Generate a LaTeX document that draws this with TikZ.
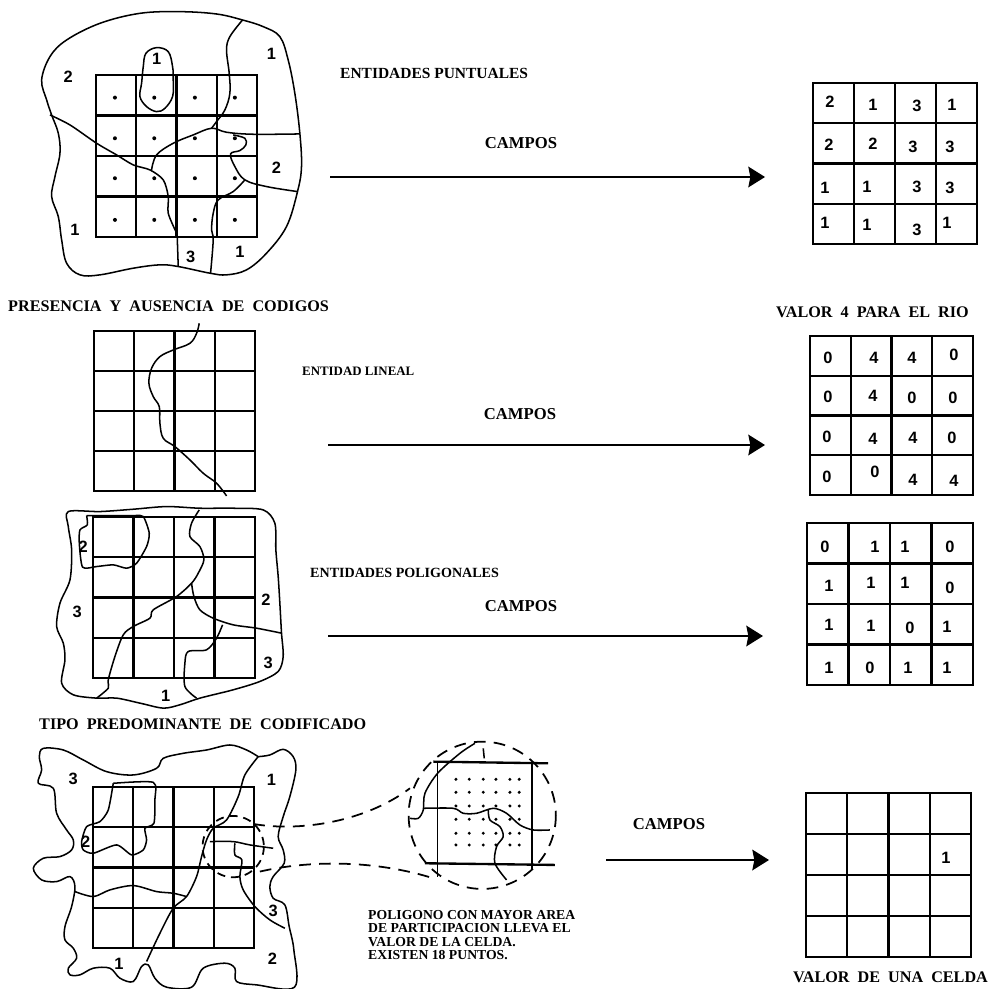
\documentclass[tikz,border=0pt]{standalone}
\usepackage{fontspec}
\setmainfont{Liberation Serif}
\newfontfamily\digitfont{Liberation Sans}
\usetikzlibrary{arrows.meta}
\tikzset{
    rotulo/.style={anchor=west, inner sep=0pt, font=\bfseries\fontsize{13.2}{13.2}\selectfont},
    rotuloancho/.style={anchor=west, inner sep=0pt, font=\bfseries\fontsize{13.8}{13.8}\selectfont},
    rotulochico/.style={anchor=west, inner sep=0pt, align=left, font=\bfseries\fontsize{11.7}{11.2}\selectfont},
    campos/.style={inner sep=0pt, font=\bfseries\fontsize{14.2}{14.2}\selectfont},
    cifra/.style={inner sep=0pt, font=\digitfont\bfseries\fontsize{14}{14}\selectfont},
    rejilla/.style={line width=2pt},
    linde/.style={line width=1.3pt, line join=round},
    flecha/.style={line width=1.5pt, -{Stealth[length=0.5cm, width=0.62cm, inset=0.06cm]}},
    trazos/.style={line width=1.5pt, dash pattern=on 10pt off 7pt},
    trazoscortos/.style={line width=1.5pt, dash pattern=on 7pt off 5pt},
    zoompic/.style={x=0.01cm, y=-0.01cm}
}
\begin{document}
\begin{tikzpicture}[x=0.03cm, y=-0.03cm, >=Stealth]
    \useasboundingbox (0,0) rectangle (989,988);
    \fill[white] (0,0) rectangle (989,988);
    % cuadriculas
    \foreach \gx/\gy/\gw/\gh in {96/75/161/162, 94/331/161/160, 93/517/162/161, 93/787/161/161,
        813/83/164/161, 810/336/163/159, 807/523/166/162, 806/793/165/164} {
        \draw[rejilla] (\gx,\gy) rectangle ({\gx+\gw},{\gy+\gh});
        \foreach \i in {1,2,3} {
            \draw[rejilla] ({\gx+\i*\gw/4},\gy) -- ({\gx+\i*\gw/4},{\gy+\gh});
            \draw[rejilla] (\gx,{\gy+\i*\gh/4}) -- ({\gx+\gw},{\gy+\i*\gh/4});
        }
    }
    % primer mapa
    \begin{scope}[zoompic]
        \draw[linde] plot[smooth cycle, tension=0.6] coordinates {(728,60) (650,42) (540,35) (420,40) (300,70) (200,120) (150,170) (125,240) (140,300) (155,345) (175,400) (180,460) (165,530) (155,590) (175,650) (185,720) (200,790) (240,825) (300,825) (400,805) (480,795) (535,800) (630,820) (680,825) (740,810) (800,760) (860,680) (893,575) (905,500) (900,400) (885,280) (865,180) (840,110) (790,80)};
        \draw[linde] plot[smooth cycle, tension=0.6] coordinates {(430,200) (438,160) (470,143) (505,155) (518,200) (520,240) (518,290) (495,325) (470,335) (440,320) (420,290) (425,250)};
        \draw[linde] plot[smooth, tension=0.6] coordinates {(728,60) (690,110) (680,150) (688,220) (690,280) (675,330) (650,365) (635,385)};
        \draw[linde] plot[smooth, tension=0.5] coordinates {(150,345) (210,375) (290,430) (350,465) (400,495) (450,510) (490,540) (505,590) (505,640) (528,695)};
        \draw[linde] (528,695) -- (532,712) -- (535,800);
        \draw[linde] plot[smooth, tension=0.6] coordinates {(455,510) (470,465) (520,430) (580,405) (635,385) (680,397) (760,403) (900,402)};
        \draw[linde] plot[smooth, tension=0.6] coordinates {(700,405) (735,415) (738,435) (720,452) (692,462) (705,500) (735,540) (800,560) (893,575)};
        \draw[linde] plot[smooth, tension=0.6] coordinates {(735,540) (700,575) (655,600) (640,640) (635,690) (640,720) (632,820)};
        \foreach \px in {345,463,585,705} \foreach \py in {293,415,535,660}
            \fill (\px,\py) circle[radius=6];
        \node[cifra] (dosA) at (205,230) {2};
        \node[cifra] (unoA) at (470,178) {1};
        \node[cifra] (unoB) at (815,162) {1};
        \node[cifra] (dosB) at (830,505) {2};
        \node[cifra] (unoC) at (225,690) {1};
        \node[cifra] (tresA) at (572,770) {3};
        \node[cifra] (unoD) at (720,755) {1};
    \end{scope}
    % rio
    \begin{scope}[shift={(0,310)}, zoompic]
        \draw[linde] plot[smooth, tension=0.6] coordinates {(598,40) (590,70) (570,100) (520,120) (480,140) (455,175) (447,220) (460,260) (478,290) (480,340) (490,385) (525,410) (570,450) (610,490) (650,520) (680,558)};
    \end{scope}
    % poligonos
    \begin{scope}[shift={(0,310)}, zoompic]
        \draw[linde] plot[smooth cycle, tension=0.5] coordinates {(205,605) (300,605) (400,598) (500,590) (600,595) (700,595) (790,600) (825,640) (828,720) (835,800) (840,880) (845,970) (850,1040) (835,1085) (780,1115) (700,1140) (600,1165) (540,1185) (490,1195) (420,1180) (350,1165) (290,1165) (220,1155) (185,1120) (195,1050) (190,1000) (170,950) (180,880) (210,810) (215,720) (205,650)};
        \draw[linde] plot[smooth, tension=0.4] coordinates {(260,617) (400,617) (430,620) (448,670) (440,710) (410,760) (380,775) (340,765) (290,770) (248,772) (238,700) (240,660) (262,645) (260,617)};
        \draw[linde] plot[smooth, tension=0.5] coordinates {(598,600) (575,640) (570,680) (600,710) (612,750) (595,790) (575,820) (530,860) (460,900) (450,925) (400,950) (370,975) (345,1040) (325,1110) (325,1135) (290,1165)};
        \draw[linde] plot[smooth, tension=0.5] coordinates {(575,820) (582,860) (600,900) (640,925) (700,945) (770,955) (845,970)};
        \draw[linde] plot[smooth, tension=0.5] coordinates {(668,945) (650,985) (620,1020) (565,1025) (555,1060) (555,1130) (590,1165)};
        \node[cifra] (dosC) at (250,710) {2};
        \node[cifra] (tresB) at (232,905) {3};
        \node[cifra] (dosD) at (798,870) {2};
        \node[cifra] (tresC) at (805,1060) {3};
        \node[cifra] (unoE) at (497,1158) {1};
    \end{scope}
    % celda ampliada, mapa
    \begin{scope}[shift={(0,700)}, zoompic]
        \draw[linde] plot[smooth, tension=0.55] coordinates {(775,170) (740,150) (690,135) (620,150) (550,160) (490,175) (470,205) (400,225) (320,215) (250,180) (190,150) (130,145) (118,170) (125,210) (115,250) (160,265) (170,340) (200,390) (220,420) (215,450) (180,470) (130,475) (100,505) (125,540) (170,545) (210,530) (225,560) (215,620) (195,680) (195,720) (220,745) (230,775) (205,805) (210,825) (240,825) (280,805) (330,805) (360,835) (400,845) (425,800) (445,795) (465,835) (500,862) (575,862) (610,805) (675,790) (705,805) (710,845) (770,855) (884,862) (882,750) (868,680) (855,615) (820,595) (810,560) (820,530) (853,490) (850,450) (835,410) (850,350) (870,290) (888,210) (880,170) (850,148) (810,165) (775,170)};
        \draw[linde] plot[smooth, tension=0.4] coordinates {(340,250) (460,247) (465,300) (462,370) (435,385) (440,420) (430,450) (395,465) (350,435) (280,460) (250,450) (245,425) (260,380) (300,365) (325,330) (340,250)};
        \draw[linde] plot[smooth, tension=0.5] coordinates {(775,170) (735,225) (715,290) (680,360) (640,385) (620,420) (605,470) (590,530) (560,590) (520,625) (480,700) (440,785)};
        \draw[linde] plot[smooth, tension=0.5] coordinates {(225,575) (280,590) (330,570) (400,557) (470,575) (520,580) (560,590)};
        \draw[linde] plot[smooth, tension=0.5] coordinates {(630,425) (700,425) (750,435) (820,445)};
        \draw[linde] plot[smooth, tension=0.5] coordinates {(705,430) (705,465) (726,480) (720,530) (730,570) (765,620) (810,660) (855,685)};
        \draw[trazoscortos] (700,440) circle[radius=92];
        \coordinate (circA) at (760,372);
        \coordinate (circB) at (780,515);
        \node[cifra] (tresD) at (220,237) {3};
        \node[cifra] (unoF) at (815,240) {1};
        \node[cifra] (dosE) at (257,425) {2};
        \node[cifra] (tresE) at (820,632) {3};
        \node[cifra] (dosF) at (818,778) {2};
        \node[cifra] (unoG) at (357,793) {1};
    \end{scope}
    % celda ampliada
    \begin{scope}[shift={(300,730)}, zoompic]
        \draw[trazos] (547,256) circle[radius=221];
        \draw[rejilla] (400,95) -- (745,100);
        \draw[rejilla] (375,400) -- (765,405);
        \draw[linde] (413,95) -- (413,440);
        \draw[linde] (697,95) -- (697,420);
        \draw[linde] plot[smooth, tension=0.5] coordinates {(525,40) (480,70) (413,130) (375,190) (370,240) (355,265) (330,265)};
        \draw[linde] plot[smooth, tension=0.5] coordinates {(370,235) (460,235) (490,250) (530,250) (580,235) (620,250) (660,285) (700,300) (750,300)};
        \draw[linde] plot[smooth, tension=0.5] coordinates {(565,240) (570,270) (600,290) (610,320) (590,350) (585,400) (620,450)};
        \draw[linde] (550,55) -- (553,85);
        \foreach \px in {468,508,550,588,630,658} \foreach \py in {148,187,228,268,310,345}
            \fill (\px,\py) circle[radius=5];
        \coordinate (circC) at (330,175);
        \coordinate (circD) at (400,445);
    \end{scope}
    \draw[trazos] (circA) .. controls (300,832) and (365,822) .. (circC);
    \draw[trazos] (circB) .. controls (310,860) and (375,860) .. (circD);
    % flechas
    \coordinate (ptoA) at (330,177);
    \coordinate (ptoB) at (765,177);
    \coordinate (linA) at (328,445);
    \coordinate (linB) at (765,445);
    \coordinate (polA) at (328,636);
    \coordinate (polB) at (763,636);
    \coordinate (celA) at (606,860);
    \coordinate (celB) at (769,860);
    \draw[flecha] (ptoA) -- (ptoB);
    \draw[flecha] (linA) -- (linB);
    \draw[flecha] (polA) -- (polB);
    \draw[flecha] (celA) -- (celB);
    % textos
    \node[rotulo] (txtPuntuales) at (340,73) {ENTIDADES PUNTUALES};
    \node[campos] (camposA) at (521,143) {CAMPOS};
    \node[rotuloancho] (txtPresencia) at (8,306) {PRESENCIA\ \ Y\ \ AUSENCIA\ \ DE\ \ CODIGOS};
    \node[rotuloancho] (txtValorRio) at (776,312) {VALOR\ \ 4\ \ PARA\ \ EL\ \ RIO};
    \node[rotulo, font=\bfseries\fontsize{11}{11}\selectfont] (txtLineal) at (302,371) {ENTIDAD LINEAL};
    \node[campos] (camposB) at (520,414) {CAMPOS};
    \node[rotulo, font=\bfseries\fontsize{12}{12}\selectfont] (txtPoligonales) at (310,573) {ENTIDADES POLIGONALES};
    \node[campos] (camposC) at (521,606) {CAMPOS};
    \node[rotuloancho] (txtTipo) at (39,724) {TIPO\ \ PREDOMINANTE\ \ DE\ \ CODIFICADO};
    \node[campos] (camposD) at (669,824) {CAMPOS};
    \node[rotulochico] (txtPoligono) at (368,935) {POLIGONO CON MAYOR AREA\\DE PARTICIPACION LLEVA EL\\VALOR DE LA CELDA.\\EXISTEN 18 PUNTOS.};
    \node[rotuloancho] (txtValorCelda) at (793,977) {VALOR\ \ DE\ \ UNA\ \ CELDA};
    % cifras de las celdas
    \foreach \cx/\cy/\cv in {830/102/2, 873/105/1, 917/106/3, 952/105/1,
        829/145/2, 873/144/2, 913/147/3, 950/147/3,
        825/188/1, 867/187/1, 917/187/3, 950/188/3,
        825/223/1, 867/225/1, 917/230/3, 947/223/1,
        828/358/0, 874/358/4, 912/358/4, 954/355/0,
        828/397/0, 873/396/4, 912/398/0, 953/398/0,
        827/437/0, 873/439/4, 913/438/4, 952/438/0,
        827/477/0, 875/472/0, 913/480/4, 954/481/4,
        825/547/0, 875/547/1, 905/547/1, 950/547/0,
        829/586/1, 871/583/1, 905/583/1, 950/588/0,
        829/625/1, 871/626/1, 910/628/0, 947/627/1,
        829/668/1, 870/668/0, 908/668/1, 947/668/1,
        946/858/1}
        \node[cifra] at (\cx,\cy) {\cv};
\end{tikzpicture}
\end{document}
